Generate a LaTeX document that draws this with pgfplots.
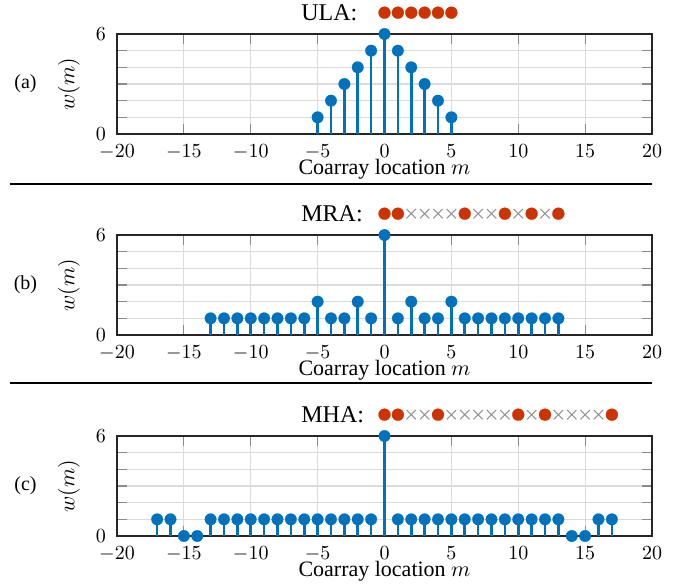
\documentclass[border=0pt]{standalone}
\usepackage{fontspec}
\setmainfont{Liberation Serif}
\usepackage{pgfplots}
\pgfplotsset{compat=1.18}
\definecolor{stemblue}{RGB}{0,114,189}
\definecolor{arrred}{RGB}{204,51,0}
\pgfplotsset{
  coarray/.style={
    scale only axis, width=267.5pt, height=50pt,
    xmin=-20, xmax=20, ymin=0, ymax=6,
    xtick={-20,-15,...,20}, ytick={0,6}, minor ytick={1,2,3,4,5},
    xmajorgrids, yminorgrids,
    grid style={black!14, line width=0.6pt},
    major tick style={black!45, line width=0.6pt},
    minor tick style={black!45, line width=0.6pt},
    major tick length=5pt, minor tick length=5pt,
    tick align=inside, xtick pos=both, ytick pos=both,
    axis line style={black!85, line width=0.6pt},
    xlabel={Coarray location $m$}, ylabel={$w(m)$},
    xlabel style={at={(axis description cs:0.5,-0.402)}, anchor=base, inner sep=0pt, font=\fontsize{11}{13}\selectfont},
    ylabel style={at={(axis description cs:-0.0897,0.5)}, anchor=center, inner sep=0pt, font=\fontsize{11}{13}\selectfont},
    xticklabel style={inner sep=0pt, yshift=-5.2pt}, yticklabel style={inner sep=0pt, xshift=-5.3pt},
    clip=false,
  },
  stem/.style={stemblue, line width=1.35pt, ycomb, mark=*, mark size=2.9pt,
    mark options={fill=stemblue, draw=stemblue, line width=0.1pt}},
  sens/.style={only marks, mark=*, mark size=3pt, arrred, mark options={fill=arrred, draw=arrred, line width=0.1pt}},
  miss/.style={only marks, mark=x, mark size=3.3pt, black!42, mark options={line width=0.55pt}},
}
\begin{document}
\begin{tikzpicture}
% ---------------- (a) ULA
\begin{axis}[coarray, at={(0pt,0pt)}, anchor=south west]
\addplot[stem] coordinates {(-5,1)(-4,2)(-3,3)(-2,4)(-1,5)(0,6)(1,5)(2,4)(3,3)(4,2)(5,1)};
\addplot[sens] coordinates {(0,7.28)(1,7.28)(2,7.28)(3,7.28)(4,7.28)(5,7.28)};
\node[anchor=base west, inner sep=0pt, font=\fontsize{12}{14}\selectfont, xshift=-41.75pt, yshift=7pt] at (rel axis cs:0.5,1) {ULA:};
\node[xshift=-45.75pt] at (rel axis cs:0,0.5) {(a)};
\end{axis}
% ---------------- (b) MRA
\begin{axis}[coarray, at={(0pt,-100.5pt)}, anchor=south west]
\addplot[stem] coordinates {(-13,1)(-12,1)(-11,1)(-10,1)(-9,1)(-8,1)(-7,1)(-6,1)(-5,2)(-4,1)(-3,1)(-2,2)(-1,1)(0,6)(1,1)(2,2)(3,1)(4,1)(5,2)(6,1)(7,1)(8,1)(9,1)(10,1)(11,1)(12,1)(13,1)};
\addplot[sens] coordinates {(0,7.28)(1,7.28)(6,7.28)(9,7.28)(11,7.28)(13,7.28)};
\addplot[miss] coordinates {(2,7.28)(3,7.28)(4,7.28)(5,7.28)(7,7.28)(8,7.28)(10,7.28)(12,7.28)};
\node[anchor=base west, inner sep=0pt, font=\fontsize{12}{14}\selectfont, xshift=-41.75pt, yshift=7pt] at (rel axis cs:0.5,1) {MRA:};
\node[xshift=-45.75pt] at (rel axis cs:0,0.5) {(b)};
\end{axis}
% ---------------- (c) MHA
\begin{axis}[coarray, at={(0pt,-201pt)}, anchor=south west]
\addplot[stem] coordinates {(-17,1)(-16,1)(-15,0)(-14,0)(-13,1)(-12,1)(-11,1)(-10,1)(-9,1)(-8,1)(-7,1)(-6,1)(-5,1)(-4,1)(-3,1)(-2,1)(-1,1)(0,6)(1,1)(2,1)(3,1)(4,1)(5,1)(6,1)(7,1)(8,1)(9,1)(10,1)(11,1)(12,1)(13,1)(14,0)(15,0)(16,1)(17,1)};
\addplot[sens] coordinates {(0,7.28)(1,7.28)(4,7.28)(10,7.28)(12,7.28)(17,7.28)};
\addplot[miss] coordinates {(2,7.28)(3,7.28)(5,7.28)(6,7.28)(7,7.28)(8,7.28)(9,7.28)(11,7.28)(13,7.28)(14,7.28)(15,7.28)(16,7.28)};
\node[anchor=base west, inner sep=0pt, font=\fontsize{12}{14}\selectfont, xshift=-41.75pt, yshift=7pt] at (rel axis cs:0.5,1) {MHA:};
\node[xshift=-45.75pt] at (rel axis cs:0,0.5) {(c)};
\end{axis}
% separators
\draw[line width=1pt] (-53.5pt,-25pt) -- (267.5pt,-25pt);
\draw[line width=1pt] (-53.5pt,-124.5pt) -- (267.5pt,-124.5pt);
\pgfresetboundingbox
\path (-58.5pt,-225pt) rectangle (284pt,67pt);
\end{tikzpicture}
\end{document}
